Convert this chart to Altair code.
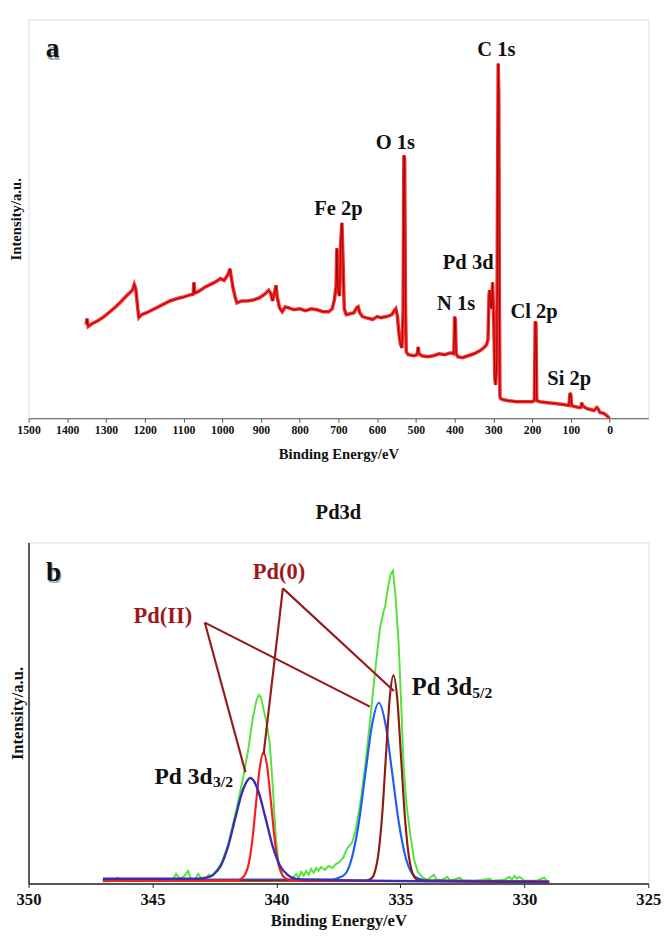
import altair as alt
import pandas as pd

SERIF = "Liberation Serif"

# ---------------- Panel a : survey spectrum ----------------
survey_ev = [1351, 1349, 1346, 1335, 1320, 1305, 1290, 1275, 1262, 1250,
             1240, 1232, 1227, 1223, 1218, 1215, 1208, 1195, 1180, 1165,
             1150, 1135, 1120, 1100, 1085, 1075, 1073, 1071, 1060, 1045,
             1030, 1015, 1005, 995, 985, 980, 976, 972, 966, 962,
             950, 935, 920, 905, 890, 880, 875, 870, 866, 861,
             858, 852, 845, 837, 828, 815, 800, 785, 770, 755,
             740, 725, 716, 710, 706, 704, 701, 697, 694, 691,
             688, 685, 680, 670, 660, 653, 649, 645, 638, 630,
             620, 612, 600, 590, 575, 562, 556, 552, 548, 544,
             540, 536, 533, 531, 529, 527, 525, 520, 505, 497,
             494, 492, 485, 470, 455, 440, 425, 410, 402, 400,
             398, 396, 392, 380, 365, 350, 335, 325, 318, 314,
             311, 309, 307.5, 305, 302, 299, 296, 294, 291, 289,
             287.5, 286, 284.5, 283, 281, 275, 260, 240, 220, 200,
             194, 192, 190, 188, 180, 160, 140, 120, 105, 102,
             100, 98, 90, 80, 74, 72, 70, 60, 50, 40,
             33, 30, 25, 15, 8, 3, 0]
survey_int = [96, 102, 94, 97, 100, 104, 109, 114, 119, 124,
              128, 131, 137, 132, 112, 103, 106, 108, 111, 114,
              117, 120, 122, 124, 126, 127, 139, 128, 130, 134,
              137, 140, 143, 141, 147, 153, 143, 133, 123, 118,
              120, 120, 121, 123, 127, 131, 128, 120, 127, 136,
              124, 113, 109, 114, 113, 111, 112, 110, 112, 111,
              109, 109, 112, 122, 135, 174, 130, 125, 180, 200,
              160, 112, 106, 107, 108, 113, 114, 108, 104, 103,
              102, 101, 104, 103, 104, 106, 110, 112, 105, 88,
              76, 72, 110, 269, 265, 120, 68, 65, 64, 65,
              73, 66, 64, 63, 64, 66, 65, 67, 66, 104,
              100, 66, 63, 62, 64, 66, 69, 72, 75, 80,
              128, 131, 115, 112, 139, 100, 40, 34, 60, 250,
              363, 330, 120, 22, 20, 19, 18, 17, 17, 17,
              18, 99, 97, 18, 17, 16, 15, 14, 13, 26,
              24, 13, 12, 11, 11, 16, 13, 10, 9, 8,
              11, 10, 6, 5, 3, 1, 0]

survey_names = ["C 1s", "O 1s", "Fe 2p", "Pd 3d", "N 1s", "Cl 2p", "Si 2p"]
survey_name_ev = [292, 553, 700, 365, 396, 195, 104]
survey_name_int = [377, 281, 214, 159, 117, 109, 40]

a_ticks = [1500, 1400, 1300, 1200, 1100, 1000, 900, 800, 700, 600, 500, 400, 300, 200, 100, 0]

# ---------------- Panel b : Pd 3d high resolution ----------------
env_ev = [347.0, 346.6, 346.4, 346.25, 345.8, 345.2, 345.0, 344.8, 344.2, 344.05,
          343.9, 343.7, 343.57, 343.45, 343.3, 343.15, 343.0, 342.85, 342.74, 342.6,
          342.4, 342.2, 341.95, 341.65, 341.37, 341.15, 340.95, 340.8, 340.7, 340.62,
          340.55, 340.4, 340.27, 340.15, 340.02, 339.9, 339.75, 339.6, 339.4, 339.2,
          339.1, 339.0, 338.9, 338.8, 338.7, 338.6, 338.5, 338.4, 338.3, 338.2,
          338.05, 337.9, 337.75, 337.6, 337.45, 337.3, 337.15, 336.95, 336.8, 336.6,
          336.4, 336.2, 336.0, 335.82, 335.68, 335.62, 335.5, 335.4, 335.3, 335.2,
          335.07, 334.96, 334.87, 334.75, 334.6, 334.45, 334.3, 334.1, 333.9, 333.65,
          333.55, 333.3, 333.1, 333.0, 332.6, 332.5, 332.0, 331.4, 331.3, 330.8,
          330.6, 330.5, 330.4, 330.3, 330.2, 330.0, 329.5, 329.2, 329.1]
env_int = [2, 3, 6, 3, 3, 3, 5, 3, 3, 10,
           5, 8, 13, 5, 4, 10, 4, 5, 9, 8,
           14, 22, 40, 72, 105, 135, 170, 188, 193, 190,
           182, 165, 143, 100, 45, 18, 8, 5, 4, 10,
           6, 12, 8, 13, 9, 15, 11, 16, 13, 17,
           14, 18, 16, 20, 22, 27, 36, 42, 55, 85,
           125, 172, 222, 262, 278, 283, 303, 316, 320, 295,
           245, 179, 119, 80, 50, 25, 12, 6, 4, 9,
           4, 4, 7, 3, 6, 3, 3, 5, 3, 4,
           7, 4, 8, 5, 7, 3, 3, 6, 3]

# Pd(II) 3d5/2 (blue)
pd2_52_ev = [347.0, 337.8, 337.49, 337.22, 336.95, 336.68, 336.41, 336.14, 335.87, 335.6, 335.33,
             335.06, 334.79, 334.52, 334.25, 333.9, 329.0]
pd2_52_int = [4, 4, 6, 10, 27, 62, 113, 163, 185, 163, 113, 62, 27, 10, 5, 3, 2]

# Pd(0) 3d5/2 (brown)
pd0_52_ev = [347.0, 336.4, 336.18, 336.03, 335.88, 335.73, 335.58, 335.43, 335.28, 335.13, 334.98,
             334.83, 334.68, 334.53, 334.38, 334.2, 329.0]
pd0_52_int = [3, 3, 5, 12, 32, 72, 132, 190, 213, 190, 132, 72, 32, 12, 5, 3, 2]

# Pd(0) 3d3/2 (red)
pd0_32_ev = [347.0, 341.6, 341.42, 341.27, 341.12, 340.97, 340.82, 340.67, 340.52, 340.37, 340.22,
             340.07, 339.92, 339.77, 339.62, 339.4, 329.0]
pd0_32_int = [3, 3, 5, 9, 20, 45, 83, 119, 134, 119, 83, 45, 20, 9, 5, 3, 2]

# Pd(II) 3d3/2 (violet)
pd2_32_ev = [347.0, 343.2, 342.85, 342.55, 342.25, 341.95, 341.65, 341.35, 341.05, 340.75, 340.45,
             340.15, 339.85, 339.55, 339.25, 338.8, 329.0]
pd2_32_int = [5, 5, 6, 9, 18, 38, 68, 96, 108, 96, 68, 38, 18, 9, 5, 4, 1.5]

b_ticks = [350, 345, 340, 335, 330, 325]

# annotation leader lines (data coordinates)
lead_x1 = [339.74, 339.74, 342.89, 342.89]
lead_y1 = [302, 302, 267, 267]
lead_x2 = [340.52, 335.26, 341.25, 336.23]
lead_y2 = [132, 197, 114, 181]

state_names = ["Pd(0)", "Pd(II)"]
state_ev = [339.9, 344.58]
state_int = [319, 274]

# ---------------- build panel a ----------------
A_W, A_H = 634, 408
xa = alt.X("ev:Q", scale=alt.Scale(domain=[1500, -100], nice=False, zero=False),
           axis=alt.Axis(values=a_ticks, format="d", title="Binding Energy/eV",
                         labelFont=SERIF, labelFontWeight="bold", labelFontSize=12, labelColor="#111",
                         titleFont=SERIF, titleFontWeight="bold", titleFontSize=15, titleColor="#111",
                         tickSize=4, tickColor="#555", domainColor="#555", grid=False,
                         labelPadding=3, titlePadding=11, labelOverlap=False, labelFlush=False))
ya = alt.Y("inten:Q", scale=alt.Scale(domain=[0, A_H], nice=False, zero=False),
           axis=alt.Axis(labels=False, ticks=False, domain=False, grid=False, title="Intensity/a.u.",
                         titleFont=SERIF, titleFontWeight="bold", titleFontSize=15, titleColor="#111",
                         titlePadding=5))

df_a = pd.DataFrame({"ev": survey_ev, "inten": survey_int})
line_a_halo = alt.Chart(df_a).mark_line(color="#ff1414", strokeWidth=3.6, opacity=0.9, clip=True).encode(
    x=xa, y=ya, order="idx:Q").transform_window(idx="row_number()")
line_a_core = alt.Chart(df_a).mark_line(color="#8a0000", strokeWidth=0.9, clip=True).encode(
    x="ev:Q", y="inten:Q", order="idx:Q").transform_window(idx="row_number()")

df_a_lab = pd.DataFrame({"ev": survey_name_ev, "inten": survey_name_int, "t": survey_names})
lab_a = alt.Chart(df_a_lab).mark_text(font=SERIF, fontWeight="bold", fontSize=21, color="#111",
                                      align="center", baseline="middle").encode(
    x="ev:Q", y="inten:Q", text="t:N")

df_a_tag = pd.DataFrame({"ev": [1438], "inten": [378], "t": ["a"]})
tag_a_sh = alt.Chart(df_a_tag).mark_text(font=SERIF, fontWeight="bold", fontSize=28, color="#9aa8b4",
                                         align="center", baseline="middle", dy=3, dx=1).encode(
    x="ev:Q", y="inten:Q", text="t:N")
tag_a = alt.Chart(df_a_tag).mark_text(font=SERIF, fontWeight="bold", fontSize=28, color="#111",
                                      align="center", baseline="middle").encode(
    x="ev:Q", y="inten:Q", text="t:N")

panel_a = alt.layer(line_a_halo, line_a_core, lab_a, tag_a_sh, tag_a).properties(width=A_W, height=A_H)

# ---------------- build panel b ----------------
B_W, B_H = 634, 349
xb = alt.X("ev:Q", scale=alt.Scale(domain=[350, 325], nice=False, zero=False),
           axis=alt.Axis(values=b_ticks, format="d", title="Binding Energy/eV",
                         labelFont=SERIF, labelFontWeight="bold", labelFontSize=17, labelColor="#111",
                         titleFont=SERIF, titleFontWeight="bold", titleFontSize=17, titleColor="#111",
                         tickSize=4, tickColor="#222", domainColor="#222", domainWidth=1.5, grid=False,
                         labelPadding=4, titlePadding=6, labelOverlap=False, labelFlush=False))
yb = alt.Y("inten:Q", scale=alt.Scale(domain=[0, B_H], nice=False, zero=False),
           axis=alt.Axis(labels=False, ticks=False, domain=True, domainColor="#222", domainWidth=1.5,
                         grid=False, title="Intensity/a.u.",
                         titleFont=SERIF, titleFontWeight="bold", titleFontSize=17, titleColor="#111",
                         titlePadding=2))


def curve(evs, ints, color, width, interp):
    df = pd.DataFrame({"ev": evs, "inten": ints})
    return alt.Chart(df).mark_line(color=color, strokeWidth=width, interpolate=interp).encode(
        x=xb, y=yb, order="idx:Q").transform_window(idx="row_number()")


c_env = curve(env_ev, env_int, "#55e23c", 2.0, "linear")
c_blue = curve(pd2_52_ev, pd2_52_int, "#1e5cf5", 2.2, "monotone")
c_brown = curve(pd0_52_ev, pd0_52_int, "#8c1c12", 2.2, "monotone")
c_red = curve(pd0_32_ev, pd0_32_int, "#f51d1d", 2.2, "monotone")
c_violet = curve(pd2_32_ev, pd2_32_int, "#3a2bb8", 2.4, "monotone")

df_lead = pd.DataFrame({"x1": lead_x1, "y1": lead_y1, "x2": lead_x2, "y2": lead_y2})
leads = alt.Chart(df_lead).mark_rule(color="#961a1a", strokeWidth=2.2).encode(
    x=alt.X("x1:Q"), y=alt.Y("y1:Q"), x2="x2:Q", y2="y2:Q")

df_state = pd.DataFrame({"ev": state_ev, "inten": state_int, "t": state_names})
lab_state = alt.Chart(df_state).mark_text(font=SERIF, fontWeight="bold", fontSize=23, color="#9e1a1a",
                                          align="center", baseline="middle").encode(
    x="ev:Q", y="inten:Q", text="t:N")

df_main = pd.DataFrame({"ev": [342.58, 334.54], "inten": [102, 193], "t": ["Pd 3d", "Pd 3d"]})
lab_main_r = alt.Chart(df_main.iloc[[0]]).mark_text(font=SERIF, fontWeight="bold", fontSize=24, color="#111",
                                                    align="right", baseline="alphabetic").encode(
    x="ev:Q", y="inten:Q", text="t:N")
lab_main_l = alt.Chart(df_main.iloc[[1]]).mark_text(font=SERIF, fontWeight="bold", fontSize=25, color="#111",
                                                    align="left", baseline="alphabetic").encode(
    x="ev:Q", y="inten:Q", text="t:N")
df_sub = pd.DataFrame({"ev": [342.56, 332.1], "inten": [99, 190], "t": ["3/2", "5/2"]})
lab_sub = alt.Chart(df_sub).mark_text(font=SERIF, fontWeight="bold", fontSize=16, color="#111",
                                      align="left", baseline="alphabetic").encode(
    x="ev:Q", y="inten:Q", text="t:N")

df_b_tag = pd.DataFrame({"ev": [348.99], "inten": [318], "t": ["b"]})
tag_b_sh = alt.Chart(df_b_tag).mark_text(font=SERIF, fontWeight="bold", fontSize=28, color="#9aa8b4",
                                         align="center", baseline="middle", dy=3, dx=1).encode(
    x="ev:Q", y="inten:Q", text="t:N")
tag_b = alt.Chart(df_b_tag).mark_text(font=SERIF, fontWeight="bold", fontSize=28, color="#111",
                                      align="center", baseline="middle").encode(
    x="ev:Q", y="inten:Q", text="t:N")

panel_b = alt.layer(c_env, c_blue, c_brown, c_red, c_violet, leads, lab_state,
                    lab_main_r, lab_main_l, lab_sub, tag_b_sh, tag_b).properties(
    width=B_W, height=B_H,
    title=alt.TitleParams("Pd3d", font=SERIF, fontSize=21, fontWeight="bold", color="#111",
                          anchor="middle", offset=20))

chart = alt.vconcat(panel_a, panel_b, spacing=127, bounds="flush").configure_view(
    stroke="#555", strokeWidth=1.3).configure(background="white", padding=0)

chart.save("out.html", embed_options={"renderer": "svg", "actions": False})
